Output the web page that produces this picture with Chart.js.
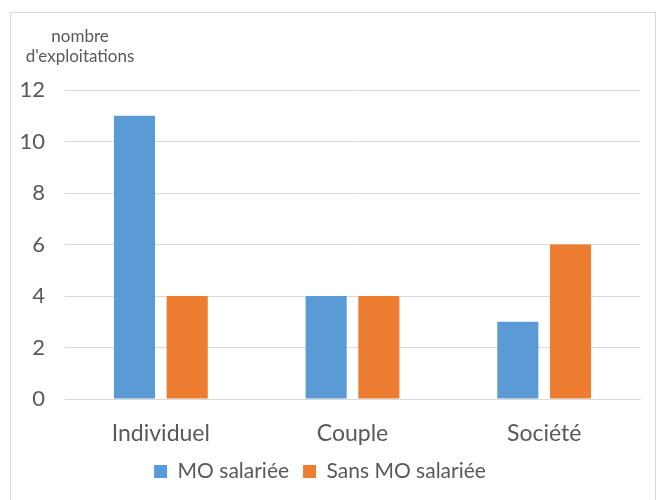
<!DOCTYPE html>
<html>
<head>
<meta charset="utf-8">
<script src="https://cdn.jsdelivr.net/npm/chart.js@4"></script>
<style>
  html, body { margin: 0; padding: 0; background: #fff; }
  #wrap { position: relative; width: 662px; height: 500px; overflow: hidden; }
  #frame { position: absolute; left: 10px; top: 12px; width: 646px; height: 500px; border: 1px solid #d9d9d9; box-sizing: border-box; }
  canvas { position: absolute; left: 0; top: 0; }
</style>
</head>
<body>
<div id="wrap">
  <div id="frame"></div>
  <canvas id="chart" width="662" height="500"></canvas>
</div>
<script>
// ── Data ──────────────────────────────────────────────────────────────────────
const categories = ['Individuel', 'Couple', 'Société'];
const moSalariee   = [11, 4, 3];
const sansMoSalariee = [4, 4, 6];
const yTitle = ['nombre', "d'exploitations"];

const BLUE   = '#5b9bd5';
const ORANGE = '#ed7d31';
const TEXT   = '#595959';
const FONT   = "Lato, 'Open Sans', sans-serif";

// Axis title drawn above the y labels
const axisTitle = {
    id: 'axisTitle',
    afterDraw(chart) {
        const ctx = chart.ctx;
        ctx.save();
        ctx.fillStyle = TEXT;
        ctx.font = `17px ${FONT}`;
        ctx.textAlign = 'center';
        ctx.textBaseline = 'middle';
        ctx.fillText(yTitle[0], 80, 37);
        ctx.fillText(yTitle[1], 80, 57);
        ctx.restore();
    }
};

new Chart(document.getElementById('chart'), {
    type: 'bar',
    data: {
        labels: categories,
        datasets: [
            { label: 'MO salariée',      data: moSalariee,     backgroundColor: BLUE },
            { label: 'Sans MO salariée', data: sansMoSalariee, backgroundColor: ORANGE },
        ]
    },
    options: {
        responsive: false,
        animation: false,
        layout: { padding: { top: 90, right: 22, bottom: 8, left: 0 } },
        datasets: { bar: { barPercentage: 0.78, categoryPercentage: 0.55 } },
        plugins: {
            legend: {
                position: 'bottom',
                labels: { color: TEXT, font: { family: FONT, size: 21 }, boxWidth: 13, boxHeight: 13, padding: 14 }
            },
            tooltip: { enabled: false }
        },
        scales: {
            x: {
                afterFit(scale) { scale.height = 48; },
                grid: { display: false },
                border: { color: '#d9d9d9' },
                ticks: { color: TEXT, font: { family: FONT, size: 23 }, padding: 13 }
            },
            y: {
                min: 0, max: 12,
                afterFit(scale) { scale.width = 65; },
                grid: { color: '#d9d9d9', drawTicks: false },
                border: { display: false },
                ticks: { stepSize: 2, color: TEXT, font: { family: FONT, size: 22 }, padding: 20 }
            }
        }
    },
    plugins: [axisTitle]
});
</script>
</body>
</html>
